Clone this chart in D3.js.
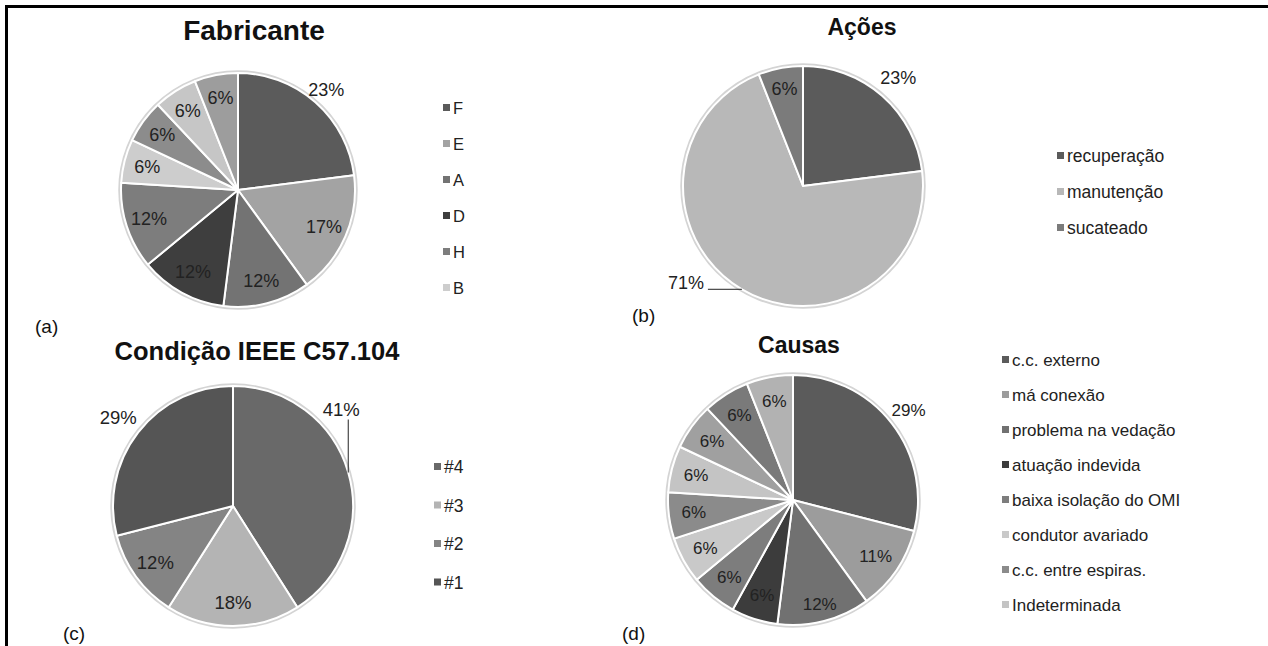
<!DOCTYPE html>
<html>
<head>
<meta charset="utf-8">
<script src="https://cdn.jsdelivr.net/npm/d3@7"></script>
<style>
  body { margin: 0; background: #fff; }
  svg { display: block; font-family: "Liberation Sans", Arial, sans-serif; }
</style>
</head>
<body>
<svg width="1268" height="646"></svg>
<script>
// Data (values in %)
const fabricanteCats = ["F", "E", "A", "D", "H", "B"];
const fabricanteValues = [23, 17, 12, 12, 12, 6, 6, 6, 6];

const acoesCats = ["recuperação", "manutenção", "sucateado"];
const acoesValues = [23, 71, 6];

const condicaoCats = ["#4", "#3", "#2", "#1"];
const condicaoValues = [41, 18, 12, 29];

const causasCats = ["c.c. externo", "má conexão", "problema na vedação", "atuação indevida",
  "baixa isolação do OMI", "condutor avariado", "c.c. entre espiras.", "Indeterminada"];
const causasValues = [29, 11, 12, 6, 6, 6, 6, 6, 6, 6, 6];

// Gray fills, per slice
const fabricanteGrays = ["#5b5b5b", "#a3a3a3", "#737373", "#3e3e3e", "#7d7d7d", "#cdcdcd", "#8c8c8c", "#c6c6c6", "#9d9d9d"];
const acoesGrays = ["#5b5b5b", "#b8b8b8", "#7b7b7b"];
const condicaoGrays = ["#696969", "#b4b4b4", "#848484", "#555555"];
const causasGrays = ["#5b5b5b", "#9c9c9c", "#717171", "#3c3c3c", "#7d7d7d", "#c9c9c9", "#8b8b8b", "#c4c4c4", "#a0a0a0", "#7a7a7a", "#b2b2b2"];

const svg = d3.select("svg");

// Frame lines (top and left)
svg.append("line").attr("x1", 5).attr("x2", 1268).attr("y1", 6.5).attr("y2", 6.5)
  .attr("stroke", "#000").attr("stroke-width", 3);
svg.append("line").attr("x1", 6.5).attr("x2", 6.5).attr("y1", 5).attr("y2", 646)
  .attr("stroke", "#000").attr("stroke-width", 3);

function drawPie(cfg) {
  const g = svg.append("g").attr("transform", `translate(${cfg.cx},${cfg.cy})`);
  const color = d3.scaleOrdinal().domain(d3.range(cfg.values.length)).range(cfg.grays);
  const pie = d3.pie().sort(null).value(d => d);
  const arcs = pie(cfg.values);
  const arc = d3.arc().innerRadius(0).outerRadius(cfg.r);

  // soft outline round the pie
  g.append("circle").attr("r", cfg.r + 1.5).attr("fill", "none")
    .attr("stroke", "#d4d4d4").attr("stroke-width", 2.5);

  g.selectAll("path.slice").data(arcs).enter().append("path")
    .attr("class", "slice")
    .attr("d", arc)
    .attr("fill", (d, i) => color(i))
    .attr("stroke", "#fff")
    .attr("stroke-width", 2)
    .attr("stroke-linejoin", "round");

  // percentage labels
  arcs.forEach((d, i) => {
    const a = (d.startAngle + d.endAngle) / 2;
    const dir = [Math.sin(a), -Math.cos(a)];
    const opt = (cfg.labelOpts && cfg.labelOpts[i]) || {};
    let x, y;
    if (opt.leader) {
      const px = dir[0] * cfg.r, py = dir[1] * cfg.r;
      const [lx, ly] = [px + opt.leader[0], py + opt.leader[1]];
      g.append("line").attr("x1", px).attr("y1", py).attr("x2", lx).attr("y2", ly)
        .attr("stroke", "#222").attr("stroke-width", 1);
      x = lx + opt.text[0];
      y = ly + opt.text[1];
    } else {
      const k = opt.k || cfg.labelK;
      x = dir[0] * cfg.r * k;
      y = dir[1] * cfg.r * k;
    }
    g.append("text")
      .attr("x", x).attr("y", y)
      .attr("text-anchor", "middle")
      .attr("dominant-baseline", "central")
      .attr("font-size", cfg.labelSize)
      .attr("fill", "#222")
      .text(d.data + "%");
  });

  // title
  svg.append("text")
    .attr("x", cfg.titleX).attr("y", cfg.titleY)
    .attr("text-anchor", "middle")
    .attr("font-weight", "bold")
    .attr("font-size", cfg.titleSize)
    .attr("fill", "#111")
    .text(cfg.title);

  // legend
  const lg = svg.append("g").attr("transform", `translate(${cfg.legX},${cfg.legY})`);
  const item = lg.selectAll("g").data(cfg.cats).enter().append("g")
    .attr("transform", (d, i) => `translate(0,${i * cfg.legStep})`);
  item.append("rect").attr("x", 0).attr("y", -4).attr("width", 7).attr("height", 7)
    .attr("fill", (d, i) => color(i));
  item.append("text").attr("x", 10).attr("y", 0)
    .attr("dominant-baseline", "central")
    .attr("font-size", cfg.legSize)
    .attr("fill", "#222")
    .text(d => d);

  // panel letter
  svg.append("text").attr("x", cfg.tagX).attr("y", cfg.tagY)
    .attr("font-size", 19).attr("fill", "#111").text(cfg.tag);
}

drawPie({
  title: "Fabricante", titleX: 254, titleY: 40, titleSize: 28,
  cx: 238, cy: 190, r: 117,
  values: fabricanteValues, cats: fabricanteCats, grays: fabricanteGrays,
  labelK: 0.8, labelSize: 18, labelOpts: { 0: { k: 1.14 } },
  legX: 443, legY: 108, legStep: 36, legSize: 16.5,
  tag: "(a)", tagX: 35, tagY: 333
});

drawPie({
  title: "Ações", titleX: 862, titleY: 35, titleSize: 23,
  cx: 803, cy: 186, r: 120,
  values: acoesValues, cats: acoesCats, grays: acoesGrays,
  labelK: 0.82, labelSize: 18,
  labelOpts: { 0: { k: 1.2 }, 1: { leader: [-34, 0], text: [-22, -6] } },
  legX: 1057, legY: 156, legStep: 36, legSize: 17.5,
  tag: "(b)", tagX: 632, tagY: 322
});

drawPie({
  title: "Condição IEEE C57.104", titleX: 257, titleY: 360, titleSize: 25.5,
  cx: 233, cy: 506, r: 120,
  values: condicaoValues, cats: condicaoCats, grays: condicaoGrays,
  labelK: 0.8, labelSize: 18.5,
  labelOpts: { 0: { leader: [0, -53], text: [-7, -10] }, 3: { k: 1.21 } },
  legX: 434, legY: 467, legStep: 38.5, legSize: 17.5,
  tag: "(c)", tagX: 63, tagY: 640
});

drawPie({
  title: "Causas", titleX: 799, titleY: 353, titleSize: 23,
  cx: 793, cy: 500, r: 125,
  values: causasValues, cats: causasCats, grays: causasGrays,
  labelK: 0.8, labelSize: 17, labelOpts: { 0: { k: 1.17 }, 2: { k: 0.86 } },
  legX: 1002, legY: 360, legStep: 35, legSize: 17,
  tag: "(d)", tagX: 622, tagY: 640
});
</script>
</body>
</html>
